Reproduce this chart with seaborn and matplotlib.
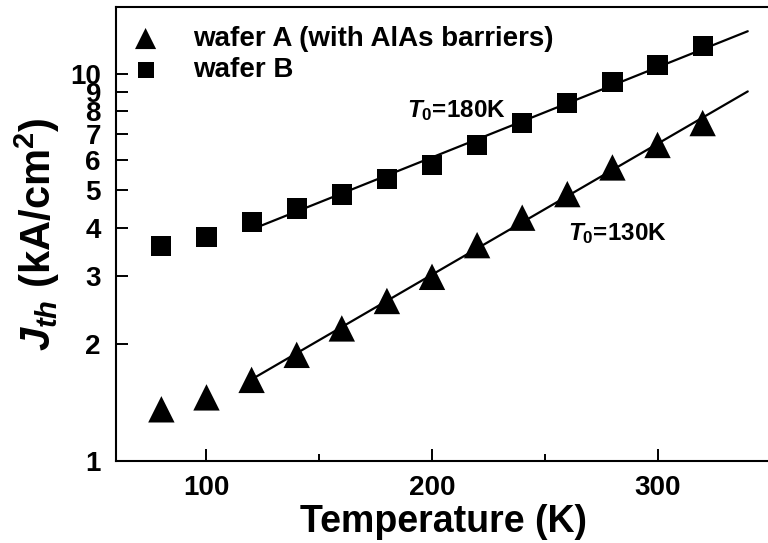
import numpy as np
import pandas as pd
import matplotlib
matplotlib.use("Agg")
import matplotlib.pyplot as plt
import seaborn as sns

# ---- data ----
temperature = [80, 100, 120, 140, 160, 180, 200, 220, 240, 260, 280, 300, 320]
jth_wafer_a = [1.36, 1.46, 1.62, 1.88, 2.20, 2.59, 2.99, 3.61, 4.25, 4.89, 5.73, 6.55, 7.46]
jth_wafer_b = [3.59, 3.79, 4.14, 4.49, 4.88, 5.36, 5.82, 6.55, 7.45, 8.42, 9.52, 10.53, 11.77]
label_a = "wafer A (with AlAs barriers)"
label_b = "wafer B"
fit_start_T = 120
fit_end_T = 340
x_ticks = [100, 200, 300]
x_minor_ticks = [150, 250]
y_ticks = [1, 2, 3, 4, 5, 6, 7, 8, 9, 10]

sns.set_style("ticks")
plt.rcParams["font.family"] = ["Liberation Sans", "DejaVu Sans"]
plt.rcParams["font.weight"] = "bold"
plt.rcParams["mathtext.fontset"] = "custom"
plt.rcParams["mathtext.rm"] = "Liberation Sans:bold"
plt.rcParams["mathtext.it"] = "Liberation Sans:italic:bold"
plt.rcParams["mathtext.bf"] = "Liberation Sans:bold"
for key in ["text.color", "axes.labelcolor", "xtick.color", "ytick.color", "axes.edgecolor"]:
    plt.rcParams[key] = "black"

df = pd.DataFrame({"T": temperature, "A": jth_wafer_a, "B": jth_wafer_b})

fig = plt.figure(figsize=(7.68, 5.43), dpi=100)
ax = fig.add_axes([0.1514, 0.151, 0.8516, 0.8366])
ax.set_yscale("log")

# exponential fits (straight on log axis) over T >= fit_start_T
fit_T = np.array([fit_start_T, fit_end_T], dtype=float)
for col in ["A", "B"]:
    sub = df[df["T"] >= fit_start_T]
    k, c = np.polyfit(sub["T"], np.log(sub[col]), 1)
    fit_df = pd.DataFrame({"T": fit_T, "J": np.exp(c + k * fit_T)})
    sns.lineplot(data=fit_df, x="T", y="J", ax=ax, color="black", lw=1.6, legend=False)

sns.scatterplot(data=df, x="T", y="A", ax=ax, marker="^", s=19**2, color="black",
                edgecolor="none", label=label_a, zorder=3)
sns.scatterplot(data=df, x="T", y="B", ax=ax, marker="s", s=14.5**2, color="black",
                edgecolor="none", label=label_b, zorder=3)

ax.set_xlim(60, 350)
ax.set_ylim(1, 14.9)
ax.set_xticks(x_ticks)
ax.set_xticks(x_minor_ticks, minor=True)
ax.set_yticks(y_ticks)
ax.set_yticklabels([str(v) for v in y_ticks])
ax.yaxis.set_minor_locator(matplotlib.ticker.NullLocator())

ax.tick_params(axis="both", which="major", direction="in", length=8.5, width=1.4,
               labelsize=20, pad=10, colors="black")
ax.tick_params(axis="x", which="minor", direction="in", length=4.8, width=1.4, colors="black")
ax.tick_params(axis="y", which="major", pad=11)
for sp in ax.spines.values():
    sp.set_linewidth(1.5)
    sp.set_color("black")
    sp.set_visible(True)

ax.set_xlabel("Temperature (K)", fontsize=27, fontweight="bold", labelpad=2, color="black")
ax.set_ylabel(r"$J_{th}$ (kA/cm$^2$)", fontsize=30, fontweight="bold", labelpad=6,
              color="black")

ax.text(188.8, 7.73, r"$T_{\mathit{0}}$=180K", fontsize=17.5, fontweight="bold",
        ha="left", va="baseline", color="black")
ax.text(260.4, 3.72, r"$T_{\mathit{0}}$=130K", fontsize=17.5, fontweight="bold",
        ha="left", va="baseline", color="black")

leg = ax.legend(loc="upper left", bbox_to_anchor=(0.0225, 0.958), frameon=False,
                fontsize=20, borderpad=0, handlelength=1.05, handletextpad=1.2,
                labelspacing=0.2, markerscale=0.8, borderaxespad=0)
for t in leg.get_texts():
    t.set_fontweight("bold")
    t.set_color("black")

fig.savefig("out.png", dpi=100)
